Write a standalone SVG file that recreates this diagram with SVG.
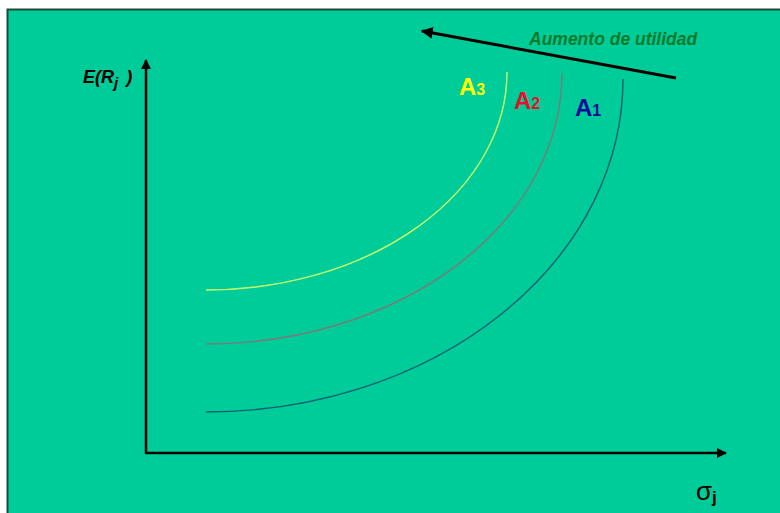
<svg xmlns="http://www.w3.org/2000/svg" width="780" height="513" viewBox="0 0 780 513">
  <defs>
    <style>
      .axis { stroke: #000; stroke-width: 2.5; fill: none; }
      .curve { fill: none; stroke-width: 1.4; }
      .lbl { font-family: "Liberation Sans", Arial, sans-serif; font-weight: bold; }
    </style>
    <marker id="arr" viewBox="0 0 10 10" refX="9" refY="5" markerWidth="4" markerHeight="4" orient="auto-start-reverse" markerUnits="strokeWidth">
      <path d="M0,0 L10,5 L0,10 Z" fill="#000"/>
    </marker>
  </defs>
  <rect x="0" y="0" width="780" height="513" fill="#fff"/>
  <rect x="7.5" y="9.5" width="790" height="520" fill="#00CC99" stroke="#1E4A3C" stroke-width="2"/>

  <g id="axes">
    <path class="axis" d="M146,453 L146,60" marker-end="url(#arr)"/>
    <path class="axis" d="M145,453 L726,453" marker-end="url(#arr)"/>
  </g>

  <g id="connectors">
    <path d="M676,78 L422,31" stroke="#000" stroke-width="3" fill="none" marker-end="url(#arr)"/>
  </g>

  <g id="curve-A3">
    <path class="curve" stroke="#CCFF66" d="M206,290 A301,218 0 0 0 507,72"/>
  </g>
  <g id="curve-A2">
    <path class="curve" stroke="#7A7A7A" d="M206,344 A356,271 0 0 0 562,73"/>
  </g>
  <g id="curve-A1">
    <path class="curve" stroke="#0A5F70" d="M206,412 A417,333 0 0 0 623,79"/>
  </g>

  <g id="label-A3">
    <text class="lbl" x="459" y="95" fill="#FFFF00" font-size="24">A<tspan font-size="16">3</tspan></text>
  </g>
  <g id="label-A2">
    <text class="lbl" x="514" y="109" fill="#E8102A" font-size="24">A<tspan font-size="16">2</tspan></text>
  </g>
  <g id="label-A1">
    <text class="lbl" x="575" y="116" fill="#0A0A9A" font-size="24">A<tspan font-size="16">1</tspan></text>
  </g>

  <g id="label-utilidad">
    <text class="lbl" x="529" y="45" fill="#0B7A2B" font-size="17.5" font-style="italic">Aumento de utilidad</text>
  </g>

  <g id="label-y">
    <text class="lbl" x="83" y="83" fill="#000" font-size="18" font-style="italic">E(R<tspan font-size="15" dy="5">j</tspan><tspan dy="-5" dx="3"> )</tspan></text>
  </g>

  <g id="label-x">
    <text x="696" y="500" fill="#000" font-family="'Liberation Sans', Arial, sans-serif" font-size="26">σ<tspan font-size="17" dy="3" font-weight="bold">j</tspan></text>
  </g>
</svg>
